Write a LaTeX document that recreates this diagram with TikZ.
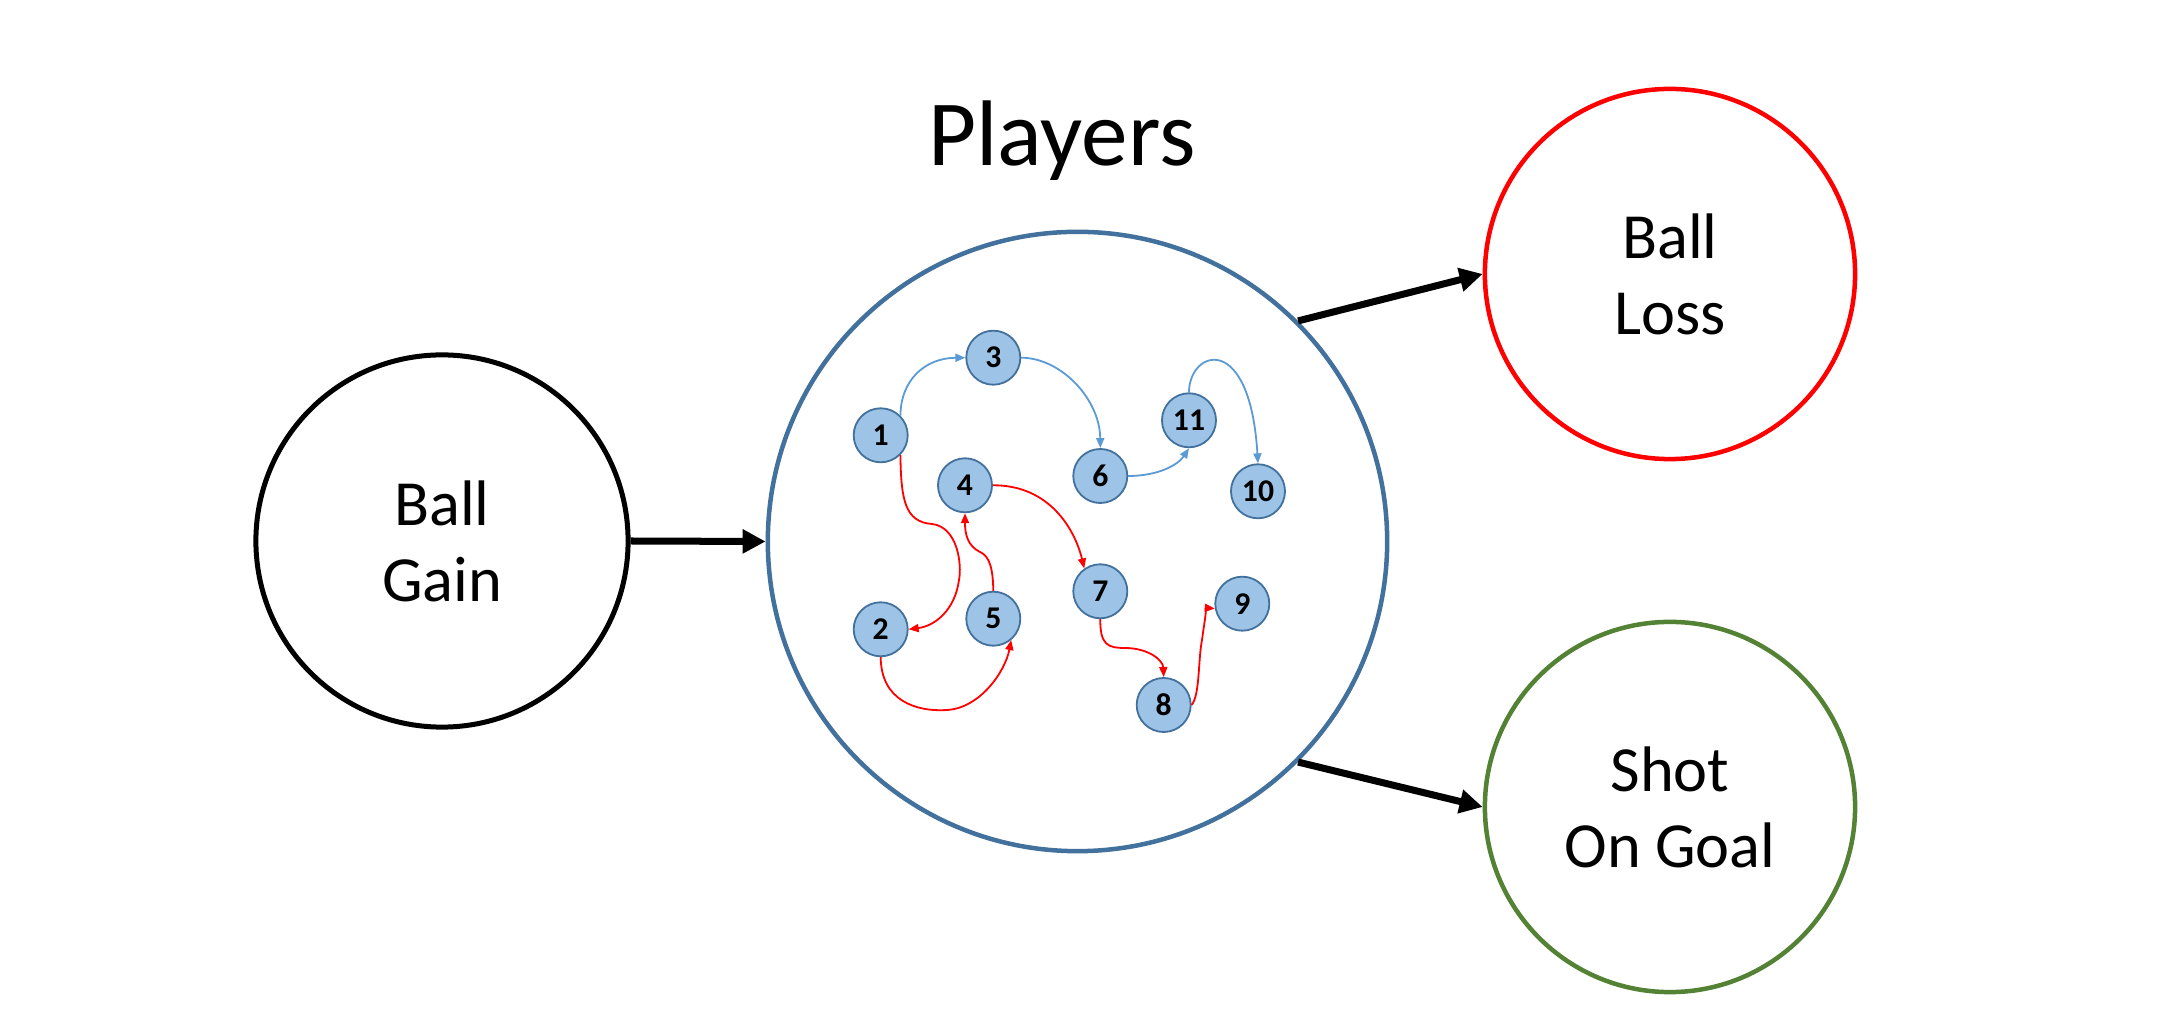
\documentclass[tikz,border=0pt]{standalone}
\usepackage{fontspec}
\setmainfont{Carlito}
\usetikzlibrary{arrows.meta}
\definecolor{pblue}{HTML}{41719C}
\definecolor{nfill}{HTML}{9DC3E6}
\definecolor{eblue}{HTML}{5B9BD5}
\definecolor{sgreen}{HTML}{548235}
\begin{document}
\begin{tikzpicture}[x=0.01cm,y=-0.01cm,
  bigc/.style={circle, inner sep=0pt, align=center, font=\fontsize{18.3}{21.6}\selectfont},
  player/.style={circle, draw=pblue, fill=nfill, line width=0.018cm, minimum size=0.54cm, inner sep=0pt, font=\fontsize{9}{10}\selectfont\bfseries},
  bigarrow/.style={line width=0.07cm, -{Triangle[length=0.23cm,width=0.23cm]}},
  bedge/.style={draw=eblue, line width=0.018cm, -{Triangle[length=0.1cm,width=0.08cm]}},
  redge/.style={draw=red, line width=0.018cm, -{Triangle[length=0.1cm,width=0.08cm]}}]
\useasboundingbox[fill=white] (0,0) rectangle (2168,1034);

\node[anchor=base, font=\fontsize{26.5}{31}\selectfont] (title) at (1062,166) {Players};

\node[bigc, draw=black, line width=0.05cm, minimum size=3.72cm] (gain) at (442,541) {Ball\\Gain};
\node[circle, draw=pblue, line width=0.045cm, minimum size=6.19cm, inner sep=0pt] (players) at (1077.5,541.5) {};
\node[bigc, draw=red, line width=0.045cm, minimum size=3.70cm] (loss) at (1670,274) {Ball\\Loss};
\node[bigc, draw=sgreen, line width=0.045cm, minimum size=3.70cm] (shot) at (1670,807) {Shot\\On Goal};

\draw[bigarrow] (gain.east) -- (players.west);
\draw[bigarrow] (players.45) -- (loss.west);
\draw[bigarrow] (players.-45) -- (shot.west);

\node[player] (n1) at (880.7,435.3) {1};
\node[player] (n2) at (880.7,629.3) {2};
\node[player] (n3) at (993.3,357.7) {3};
\node[player] (n4) at (965,485.3) {4};
\node[player] (n5) at (993.3,618.7) {5};
\node[player] (n6) at (1100.3,476) {6};
\node[player] (n7) at (1100.3,591.3) {7};
\node[player] (n8) at (1163.7,705) {8};
\node[player] (n9) at (1242.3,603.7) {9};
\node[player] (n10) at (1258,491.3) {10};
\node[player] (n11) at (1189,420.3) {11};

\draw[bedge] (n1.45) .. controls (900.7,380) and (925,358) .. (n3.west);
\draw[bedge] (n3.east) .. controls (1062,358) and (1100,400) .. (n6.north);
\draw[bedge] (n6.east) .. controls (1158,476) and (1178,465) .. (n11.south);
\draw[bedge] (n11.north) .. controls (1189,350) and (1250,330) .. (n10.north);

\draw[redge] (n1.-45) .. controls (901,500) and (905,522) .. (932,524) .. controls (958,527) and (962,565) .. (959,580) .. controls (955,610) and (935,626) .. (n2.east);
\draw[redge] (n2.south) .. controls (881,700) and (915,712) .. (947,710) .. controls (980,708) and (1005,672) .. (n5.-50);
\draw[redge] (n5.north) .. controls (993,570) and (990,556) .. (980,552) .. controls (968,546) and (965,535) .. (n4.south);
\draw[redge] (n4.east) .. controls (1050,485) and (1075,530) .. (n7.125);
\draw[redge] (n7.south) .. controls (1100,645) and (1108,648) .. (1125,648) .. controls (1148,648) and (1163,660) .. (n8.north);
\draw[redge] (n8.east) .. controls (1200,695) and (1198,660) .. (1202,640) .. controls (1205,618) and (1207,608) .. (n9.190);
\end{tikzpicture}
\end{document}
